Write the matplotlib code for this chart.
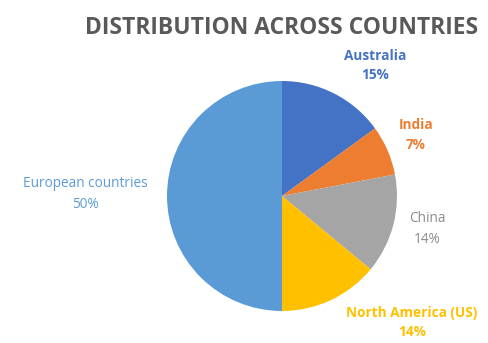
import matplotlib.pyplot as plt

# Data
countries = ['Australia', 'India', 'China', 'North America (US)', 'European countries']
shares = [15, 7, 14, 14, 50]
colors = ['#4472C4', '#ED7D31', '#A5A5A5', '#FFC000', '#5B9BD5']
label_colors = ['#4472C4', '#ED7D31', '#8C8C8C', '#FFC000', '#5B9BD5']
label_weights = ['bold', 'bold', 'normal', 'bold', 'normal']

# label block centres, in pie-radius units
label_pos = [(0.81, 1.135), (1.165, 0.53), (1.26, -0.287), (1.13, -1.10), (-1.713, 0.017)]

fig = plt.figure(figsize=(4.88, 3.43), dpi=100)
ax = fig.add_axes([0, 0, 1, 1])

ax.pie(shares, colors=colors, startangle=90, counterclock=False,
       radius=1, wedgeprops=dict(linewidth=0))

# pie centre at (282, 196) px from top-left, radius 115 px
r = 115.0
ax.set_xlim(-282 / r, (488 - 282) / r)
ax.set_ylim(-(343 - 196) / r, 196 / r)
ax.set_aspect('auto')
ax.axis('off')

for name, pct, (x, y), c, w in zip(countries, shares, label_pos, label_colors, label_weights):
    ax.text(x, y, f'{name}\n{pct}%', ha='center', va='center', color=c,
            fontsize=9.8, fontweight=w, family='Open Sans', linespacing=1.5)

fig.text(282 / 488, 1 - 28 / 343, 'DISTRIBUTION ACROSS COUNTRIES', ha='center', va='center',
         fontsize=16.5, fontweight='bold', color='#595959', family='Open Sans')

fig.savefig('out.png', dpi=100)
